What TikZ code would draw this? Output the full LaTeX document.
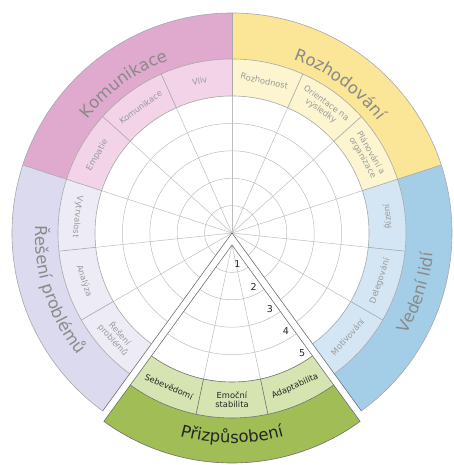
\documentclass[tikz,border=0pt]{standalone}
\usepackage{fontspec}
\setmainfont{DejaVu Sans}
\usetikzlibrary{decorations.text}
\definecolor{pinkD}{HTML}{E0A9CE}
\definecolor{pinkL}{HTML}{F2D3E8}
\definecolor{yelD}{HTML}{FAE696}
\definecolor{yelL}{HTML}{FCF5D0}
\definecolor{bluD}{HTML}{A4CEE8}
\definecolor{bluL}{HTML}{D4E6F4}
\definecolor{lavD}{HTML}{DCDAEE}
\definecolor{lavL}{HTML}{EDECF6}
\definecolor{grnD}{HTML}{A0BE55}
\definecolor{grnL}{HTML}{D5E4B0}
\definecolor{catgray}{HTML}{8A8A8A}
\definecolor{subgray}{HTML}{9A9A9A}
\definecolor{gridc}{HTML}{BDBDBD}
\definecolor{bandc}{HTML}{A8A8A8}
\definecolor{edgec}{HTML}{707070}
\newcommand{\catfont}{\fontsize{16.5}{16.5}\selectfont}
\tikzset{
  gridline/.style={draw=gridc, line width=0.5pt},
  bandline/.style={draw=bandc, line width=0.6pt},
  edgeline/.style={draw=edgec, line width=0.6pt},
  sublab/.style={font=\fontsize{8.3}{9.3}\selectfont, text=subgray, align=center, inner sep=0pt},
  wsublab/.style={font=\fontsize{8.3}{9.3}\selectfont, text=black!85, align=center, inner sep=0pt},
  numlab/.style={font=\fontsize{9.5}{10}\selectfont, text=black!85, inner sep=0pt}
}
\begin{document}
\begin{tikzpicture}
\useasboundingbox (-232pt,-232pt) rectangle (221pt,233pt);
% ---------- main wheel fills
\foreach \a/\b/\cd/\cl in {90/162/pinkD/pinkL, 18/90/yelD/yelL, -54/18/bluD/bluL, 162/234/lavD/lavL} {
  \fill[\cd] (\a:174pt) arc[start angle=\a, end angle=\b, radius=174pt] -- (\b:220pt) arc[start angle=\b, end angle=\a, radius=220pt] -- cycle;
  \fill[\cl] (\a:137pt) arc[start angle=\a, end angle=\b, radius=137pt] -- (\b:174pt) arc[start angle=\b, end angle=\a, radius=174pt] -- cycle;
}
% ---------- grid
\foreach \r in {27.4,54.8,82.2,109.6}
  \draw[gridline] (-54:\r pt) arc[start angle=-54, end angle=234, radius=\r pt];
\foreach \a in {-30,-6,...,210}
  \draw[gridline] (0,0) -- (\a:137pt);
% ---------- band lines
\foreach \a in {-30,-6,...,210}
  \draw[bandline] (\a:137pt) -- (\a:174pt);
\foreach \a in {18,90,162}
  \draw[bandline] (\a:174pt) -- (\a:220pt);
\foreach \r in {137,174,220}
  \draw[bandline] (-54:\r pt) arc[start angle=-54, end angle=234, radius=\r pt];
\draw[edgeline] (234:220pt) -- (0,0) -- (306:220pt);
% ---------- category labels
\path[decorate, decoration={text along path, text={|\catfont|Komunikace}, text align=center, text color=catgray}]
  (162:184pt) arc[start angle=162, end angle=90, radius=184pt];
\path[decorate, decoration={text along path, text={|\catfont|Rozhodování}, text align=center, text color=catgray}]
  (90:184pt) arc[start angle=90, end angle=18, radius=184pt];
\path[decorate, decoration={text along path, text={|\catfont|Vedení lidí}, text align=center, text color=catgray}]
  (-54:202pt) arc[start angle=-54, end angle=18, radius=202pt];
\path[decorate, decoration={text along path, text={|\catfont|Řešení problémů}, text align=center, text color=catgray}]
  (162:197pt) arc[start angle=162, end angle=234, radius=197pt];
% ---------- sub labels
\node[sublab, rotate=12]  (vliv) at (102:155.5pt) {Vliv};
\node[sublab, rotate=36]  (komu) at (126:155.5pt) {Komunikace};
\node[sublab, rotate=60]  (empa) at (150:155.5pt) {Empatie};
\node[sublab, rotate=-12] (rozh) at (78:155.5pt) {Rozhodnost};
\node[sublab, rotate=-36] (orie) at (54:155.5pt) {Orientace na\\výsledky};
\node[sublab, rotate=-60] (plan) at (30:155.5pt) {Plánování a\\organizace};
\node[sublab, rotate=96]  (rize) at (6:155.5pt) {Řízení};
\node[sublab, rotate=72]  (dele) at (-18:155.5pt) {Delegování};
\node[sublab, rotate=48]  (moti) at (-42:155.5pt) {Motivování};
\node[sublab, rotate=264] (vytr) at (174:155.5pt) {Vytrvalost};
\node[sublab, rotate=288] (anal) at (198:155.5pt) {Analýza};
\node[sublab, rotate=312] (rese) at (222:155.5pt) {Řešení\\problémů};
% ---------- exploded wedge
\begin{scope}[shift={(0,-12pt)}]
  \fill[grnD] (234:173pt) arc[start angle=234, end angle=306, radius=173pt] -- (306:218pt) arc[start angle=306, end angle=234, radius=218pt] -- cycle;
  \fill[grnL] (234:137pt) arc[start angle=234, end angle=306, radius=137pt] -- (306:173pt) arc[start angle=306, end angle=234, radius=173pt] -- cycle;
  \foreach \r in {27.4,54.8,82.2,109.6}
    \draw[gridline] (234:\r pt) arc[start angle=234, end angle=306, radius=\r pt];
  \foreach \a in {258,282}
    \draw[gridline] (0,0) -- (\a:137pt);
  \foreach \a in {258,282}
    \draw[edgeline] (\a:137pt) -- (\a:173pt);
  \foreach \r in {137,173,218}
    \draw[edgeline] (234:\r pt) arc[start angle=234, end angle=306, radius=\r pt];
  \draw[edgeline] (234:218pt) -- (0,0) -- (306:218pt);
  \foreach \n/\d in {1/19,2/46.5,3/74,4/101.5,5/129}
    \node[numlab, shift={(216:7pt)}] (n\n) at (306:\d pt) {\n};
  \node[wsublab, rotate=-24] (sebe) at (246:155pt) {Sebevědomí};
  \node[wsublab] (emoc) at (270:155pt) {Emoční\\stabilita};
  \node[wsublab, rotate=24] (adap) at (294:155pt) {Adaptabilita};
  \path[decorate, decoration={text along path, text={|\catfont|Přizpůsobení}, text align=center, text color=black!85}]
    (234:198pt) arc[start angle=234, end angle=306, radius=198pt];
\end{scope}
\end{tikzpicture}
\end{document}
